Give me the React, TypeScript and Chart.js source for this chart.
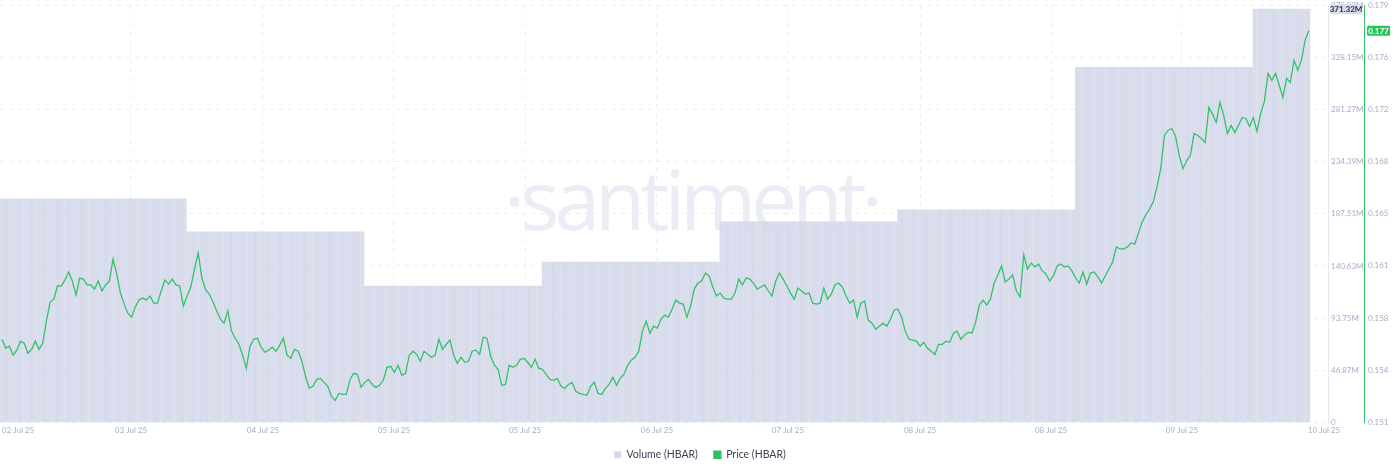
import { useEffect, useRef } from "react";
import { Chart, registerables } from "chart.js";

Chart.register(...registerables);

// Price (HBAR), one reading every 30 minutes
const price = [
  0.15644, 0.15583, 0.15597, 0.15536, 0.1557, 0.15631, 0.15617, 0.15549, 0.15576, 0.15631,
  0.15576, 0.15617, 0.15767, 0.15896, 0.15916, 0.16005, 0.16005, 0.16046, 0.161, 0.16039,
  0.15944, 0.16059, 0.16052, 0.16012, 0.16012, 0.15984, 0.16039, 0.15971, 0.16012, 0.16039,
  0.16188, 0.16086, 0.15957, 0.15882, 0.15821, 0.15794, 0.15862, 0.1591, 0.15923, 0.1591,
  0.15937, 0.15889, 0.15889, 0.15971, 0.16046, 0.16018, 0.16052, 0.16012, 0.16005, 0.15869,
  0.15937, 0.15998, 0.1612, 0.16229, 0.16059, 0.15978, 0.1595, 0.15896, 0.15835, 0.1578,
  0.15753, 0.15835, 0.15699, 0.15651, 0.1561, 0.15536, 0.15447, 0.15597, 0.15644, 0.15651,
  0.1559, 0.15556, 0.1557, 0.1559, 0.15563, 0.15604, 0.15651, 0.15536, 0.15515, 0.15576,
  0.15563, 0.15495, 0.15393, 0.15311, 0.15325, 0.15372, 0.15379, 0.15352, 0.15325, 0.15257,
  0.1523, 0.15277, 0.1527, 0.1527, 0.15372, 0.15413, 0.15406, 0.15318, 0.15352, 0.15372,
  0.15338, 0.15318, 0.15332, 0.15366, 0.15454, 0.15461, 0.1542, 0.15468, 0.154, 0.15413,
  0.15536, 0.15563, 0.15542, 0.15495, 0.15563, 0.15542, 0.15522, 0.15536, 0.15644, 0.15576,
  0.1561, 0.15638, 0.15536, 0.15481, 0.15522, 0.15488, 0.15495, 0.15563, 0.1557, 0.15542,
  0.15658, 0.15651, 0.15529, 0.15468, 0.1544, 0.15332, 0.15338, 0.15468, 0.15454, 0.15468,
  0.15508, 0.15515, 0.15488, 0.15454, 0.15508, 0.15447, 0.1544, 0.15406, 0.15372, 0.15366,
  0.15379, 0.15325, 0.15311, 0.15338, 0.15352, 0.15291, 0.15277, 0.1527, 0.15264, 0.15325,
  0.15352, 0.15277, 0.1527, 0.15311, 0.15338, 0.15386, 0.15332, 0.15379, 0.15406, 0.15468,
  0.15502, 0.15522, 0.15563, 0.15699, 0.15767, 0.15685, 0.15733, 0.15719, 0.1578, 0.15808,
  0.15794, 0.15848, 0.1591, 0.15889, 0.15882, 0.15794, 0.15869, 0.15984, 0.16025, 0.16039,
  0.16093, 0.16073, 0.15998, 0.15937, 0.15957, 0.15923, 0.15916, 0.15916, 0.15957, 0.16052,
  0.16012, 0.16059, 0.16052, 0.16025, 0.15984, 0.15998, 0.16012, 0.15971, 0.15937, 0.16039,
  0.16093, 0.16052, 0.16005, 0.15957, 0.15916, 0.15991, 0.15971, 0.1595, 0.15957, 0.15889,
  0.15882, 0.15889, 0.15991, 0.15916, 0.1595, 0.16012, 0.16025, 0.15998, 0.15937, 0.15889,
  0.1591, 0.15794, 0.15889, 0.15903, 0.15774, 0.15753, 0.15712, 0.15733, 0.15753, 0.15733,
  0.1578, 0.15842, 0.15848, 0.15794, 0.15699, 0.15644, 0.15638, 0.15631, 0.15597, 0.15624,
  0.15583, 0.15563, 0.15542, 0.1561, 0.1561, 0.15631, 0.15624, 0.15685, 0.15699, 0.15644,
  0.15672, 0.15692, 0.15685, 0.1576, 0.15876, 0.1591, 0.15876, 0.15916, 0.16025, 0.1608,
  0.16141, 0.16032, 0.16052, 0.1608, 0.15971, 0.1593, 0.16216, 0.1612, 0.16161, 0.16134,
  0.16154, 0.16107, 0.16086, 0.16039, 0.16073, 0.16141, 0.16154, 0.16134, 0.16141, 0.16107,
  0.16059, 0.16025, 0.161, 0.16018, 0.16093, 0.161, 0.16066, 0.16025, 0.16073, 0.1612,
  0.16168, 0.1627, 0.16256, 0.16256, 0.1627, 0.16297, 0.1629, 0.16365, 0.1644, 0.16488,
  0.16528, 0.16576, 0.16678, 0.168, 0.17025, 0.17059, 0.17072, 0.17018, 0.16889, 0.168,
  0.16855, 0.16889, 0.17038, 0.17025, 0.17004, 0.16977, 0.17215, 0.17168, 0.17113, 0.17249,
  0.17161, 0.17038, 0.17093, 0.17045, 0.17093, 0.17147, 0.1714, 0.17086, 0.17147, 0.17052,
  0.17174, 0.17256, 0.17446, 0.17399, 0.17446, 0.17365, 0.17283, 0.17412, 0.17385, 0.17535,
  0.17467, 0.17535, 0.17671, 0.17735,
];

// Volume (HBAR) in millions, one value per day, drawn as 15 minute bars
const dailyVolume = [201.0, 171.3, 122.6, 144.2, 180.3, 191.1, 319.1, 371.32];
const barsPerDay = [101, 96, 96, 96, 96, 96, 96, 31];

const dateTicks = [2.16, 17.42, 35.25, 52.94, 70.64, 88.46, 106.15, 123.99, 141.68, 159.37, 178.55];
const dateLabels = [
  "02 Jul 25", "03 Jul 25", "04 Jul 25", "05 Jul 25", "05 Jul 25", "06 Jul 25",
  "07 Jul 25", "08 Jul 25", "08 Jul 25", "09 Jul 25", "10 Jul 25",
];
const volumeTicks = [0, 46.87, 93.75, 140.63, 187.51, 234.39, 281.27, 328.15, 375.03];
const priceTicks = [0.1508, 0.15434, 0.15788, 0.16141, 0.16495, 0.16849, 0.17203, 0.17556, 0.17909];

const GRID = "#eceef5";
const LABEL = "#a5adc6";
const GREEN = "#26c45c";
const BAR = "#d6daeb";

const volumeBars = dailyVolume.flatMap((v, day) => Array(barsPerDay[day]).fill(v));

const watermark = {
  id: "watermark",
  beforeDatasetsDraw(chart: any) {
    const { ctx } = chart;
    ctx.save();
    ctx.font = "400 82px 'Open Sans'";
    ctx.letterSpacing = "-5px";
    ctx.fillStyle = "#ebedf5";
    ctx.textAlign = "center";
    ctx.textBaseline = "alphabetic";
    ctx.fillText("·santiment·", 691, 230);
    ctx.restore();
  },
};

function tag(ctx: any, text: string, x: number, y: number, w: number, bg: string, fg: string) {
  ctx.fillStyle = bg;
  ctx.beginPath();
  ctx.roundRect(x, y - 5, w, 10, 1.5);
  ctx.fill();
  ctx.fillStyle = fg;
  ctx.textAlign = "center";
  ctx.textBaseline = "middle";
  ctx.fillText(text, x + w / 2, y + 0.5);
}

const lastValueTags = {
  id: "lastValueTags",
  afterDraw(chart: any) {
    const { ctx, scales } = chart;
    ctx.save();
    ctx.font = "bold 8px Lato";
    const vol = dailyVolume[dailyVolume.length - 1];
    const last = price[price.length - 1];
    tag(ctx, vol.toFixed(2) + "M", scales.y.left + 2, scales.y.getPixelForValue(vol), 32, "#d9dcea", "#2b3047");
    tag(ctx, last.toFixed(3), scales.y1.left + 3, scales.y1.getPixelForValue(last), 23, GREEN, "#ffffff");
    ctx.restore();
  },
};

export default function App() {
  const canvasRef = useRef<HTMLCanvasElement | null>(null);

  useEffect(() => {
    if (!canvasRef.current) return;
    document.body.style.margin = "0";

    const tickFont = { family: "Lato", size: 8 };

    const chart = new Chart(canvasRef.current, {
      type: "bar",
      data: {
        datasets: [
          {
            type: "bar",
            label: "Volume (HBAR)",
            data: volumeBars.map((v, i) => ({ x: i * 0.25 - 0.2, y: v })),
            backgroundColor: BAR,
            barThickness: 1.25,
            yAxisID: "y",
            order: 2,
          },
          {
            type: "line",
            label: "Price (HBAR)",
            data: price.map((v, i) => ({ x: i * 0.5, y: v })),
            borderColor: "#35c16a",
            backgroundColor: GREEN,
            borderWidth: 1.3,
            pointRadius: 0,
            tension: 0,
            yAxisID: "y1",
            order: 1,
          },
        ] as any,
      },
      options: {
        responsive: false,
        animation: false,
        layout: { padding: { top: 5, left: 0, right: 0, bottom: 3 } },
        plugins: {
          tooltip: { enabled: false },
          legend: {
            position: "bottom",
            labels: {
              boxWidth: 7,
              boxHeight: 7,
              padding: 16,
              color: "#3d4256",
              font: { family: "Lato", size: 10.5 },
              sort: (a: any, b: any) => a.datasetIndex - b.datasetIndex,
            },
          },
        },
        scales: {
          x: {
            type: "linear",
            offset: false,
            min: -0.27,
            max: 179.09,
            afterBuildTicks: (scale: any) => {
              scale.ticks = dateTicks.map((value) => ({ value }));
            },
            afterFit: (scale: any) => {
              scale.height = 11;
              scale.paddingLeft = 0;
              scale.paddingRight = 0;
            },
            border: { display: false, dash: [4, 5] },
            grid: {
              offset: false,
              drawTicks: false,
              color: (c: any) => (c.index === 0 || c.index === dateTicks.length - 1 ? "transparent" : GRID),
            },
            ticks: {
              autoSkip: false,
              maxRotation: 0,
              padding: 3,
              color: LABEL,
              font: tickFont,
              callback: (_v: any, i: number) => dateLabels[i],
            },
          },
          y: {
            position: "right",
            min: 0,
            max: 375.03,
            afterBuildTicks: (scale: any) => {
              scale.ticks = volumeTicks.map((value) => ({ value }));
            },
            afterFit: (scale: any) => {
              scale.width = 36;
              scale.paddingTop = 0;
              scale.paddingBottom = 0;
            },
            border: { color: "#e6e8f1", dash: [4, 5] },
            grid: { color: GRID, drawTicks: false },
            ticks: {
              padding: 3,
              color: LABEL,
              font: tickFont,
              callback: (v: any) => (v === 0 ? "0" : Number(v).toFixed(2) + "M"),
            },
          },
          y1: {
            position: "right",
            min: 0.1508,
            max: 0.17909,
            afterBuildTicks: (scale: any) => {
              scale.ticks = priceTicks.map((value) => ({ value }));
            },
            afterFit: (scale: any) => {
              scale.width = 36;
              scale.paddingTop = 0;
              scale.paddingBottom = 0;
            },
            border: { color: "#35c16a" },
            grid: { display: false, drawTicks: false },
            ticks: {
              padding: 4,
              color: LABEL,
              font: tickFont,
              callback: (v: any) => Number(v).toFixed(3),
            },
          },
        },
      } as any,
      plugins: [watermark, lastValueTags],
    });

    return () => chart.destroy();
  }, []);

  return (
    <div style={{ width: 1400, height: 473 }}>
      <canvas ref={canvasRef} width={1400} height={473} style={{ display: "block" }} />
    </div>
  );
}
